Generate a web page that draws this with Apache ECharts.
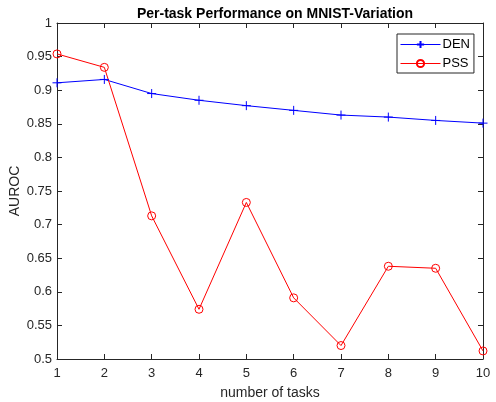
<!DOCTYPE html>
<html>
<head>
<meta charset="utf-8">
<script src="https://cdn.jsdelivr.net/npm/echarts@6/dist/echarts.min.js"></script>
<style>
  html, body { margin: 0; padding: 0; background: #fff; }
  #main { width: 496px; height: 402px; }
</style>
</head>
<body>
<div id="main"></div>
<script>
// number of tasks
var tasks = [1, 2, 3, 4, 5, 6, 7, 8, 9, 10];
// AUROC per task
var denValues = [0.911, 0.916, 0.895, 0.885, 0.877, 0.870, 0.863, 0.860, 0.855, 0.851];
var pssValues = [0.954, 0.934, 0.713, 0.574, 0.733, 0.591, 0.520, 0.638, 0.635, 0.512];

function pairs(vals) {
    var res = [];
    for (var i = 0; i < tasks.length; i++) {
        res.push([tasks[i], vals[i]]);
    }
    return res;
}

var axisColor = '#262626';
var font = 'Liberation Sans, Arial, sans-serif';

var chart = echarts.init(document.getElementById('main'), null, { renderer: 'canvas' });

var boxAxis = {
    axisLine: { show: true, lineStyle: { color: axisColor, width: 1 } },
    axisTick: { show: true, inside: true, length: 5, lineStyle: { color: axisColor } },
    splitLine: { show: false }
};

chart.setOption({
    animation: false,
    backgroundColor: '#fff',
    title: {
        text: 'Per-task Performance on MNIST-Variation',
        left: 270,
        textAlign: 'center',
        top: 2,
        textStyle: { fontFamily: font, fontSize: 14, fontWeight: 'bold', color: '#000' }
    },
    grid: { left: 57, top: 23, right: 13, bottom: 43, outerBoundsMode: 'none', containLabel: false },
    legend: {
        orient: 'vertical',
        left: 397,
        top: 34,
        itemWidth: 40,
        itemHeight: 9,
        itemGap: 6,
        padding: [4, 4, 3, 3],
        borderColor: axisColor,
        borderWidth: 1,
        backgroundColor: '#fff',
        lineStyle: { width: 1 },
        textStyle: { fontFamily: font, fontSize: 13, color: '#000', padding: [0, 0, 0, -3] },
        data: ['DEN', 'PSS']
    },
    xAxis: [
        Object.assign({
            type: 'value', min: 1, max: 10, interval: 1, position: 'bottom',
            name: 'number of tasks', nameLocation: 'middle', nameGap: 27, nameMoveOverlap: false,
            nameTextStyle: { fontFamily: font, fontSize: 14, color: axisColor },
            axisLabel: { fontFamily: font, fontSize: 13, color: axisColor, margin: 8 }
        }, boxAxis),
        Object.assign({
            type: 'value', min: 1, max: 10, interval: 1, position: 'top',
            axisLabel: { show: false }
        }, boxAxis)
    ],
    yAxis: [
        Object.assign({
            type: 'value', min: 0.5, max: 1, interval: 0.05, position: 'left',
            name: 'AUROC', nameLocation: 'middle', nameGap: 35, nameMoveOverlap: false,
            nameTextStyle: { fontFamily: font, fontSize: 14, color: axisColor },
            axisLabel: { fontFamily: font, fontSize: 13, color: axisColor, margin: 5 }
        }, boxAxis),
        Object.assign({
            type: 'value', min: 0.5, max: 1, interval: 0.05, position: 'right',
            axisLabel: { show: false }
        }, boxAxis)
    ],
    series: [
        {
            name: 'DEN',
            type: 'line',
            data: pairs(denValues),
            symbol: 'path://M5,0L5,10M0,5L10,5',
            symbolSize: 9,
            showAllSymbol: true,
            color: '#0000ff',
            lineStyle: { color: '#0000ff', width: 1 },
            itemStyle: { color: 'rgba(0,0,0,0)', borderColor: '#0000ff', borderWidth: 1 }
        },
        {
            name: 'PSS',
            type: 'line',
            data: pairs(pssValues),
            symbol: 'circle',
            symbolSize: 8,
            showAllSymbol: true,
            color: '#ff0000',
            lineStyle: { color: '#ff0000', width: 1 },
            itemStyle: { color: 'rgba(0,0,0,0)', borderColor: '#ff0000', borderWidth: 1 }
        }
    ]
});
</script>
</body>
</html>
